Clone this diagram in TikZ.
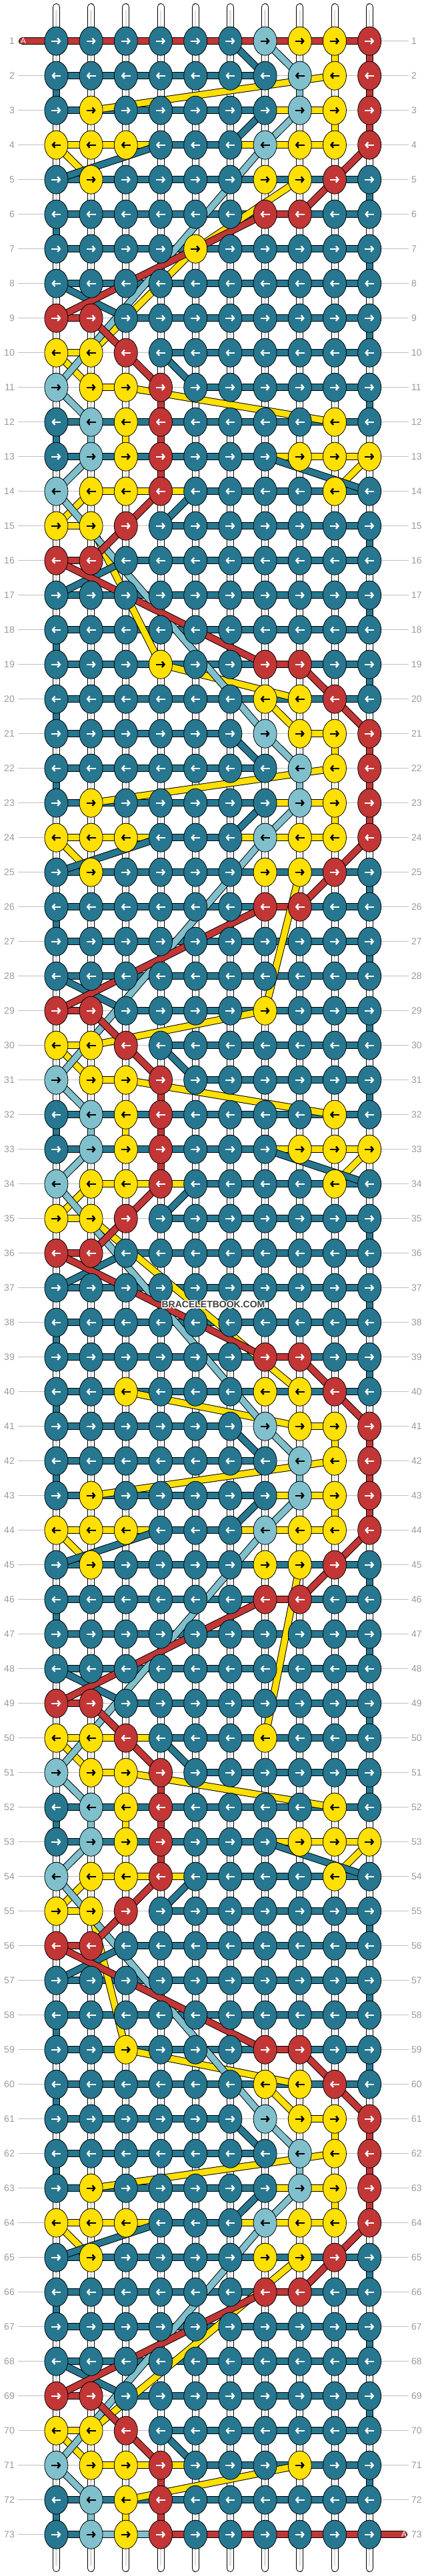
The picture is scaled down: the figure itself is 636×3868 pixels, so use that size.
\documentclass[tikz,border=0pt]{standalone}
\usepackage{fontspec}
\setmainfont{Liberation Sans}
\usetikzlibrary{arrows.meta,shapes.geometric}
\definecolor{sD}{HTML}{26778F}
\definecolor{sL}{HTML}{80C0CC}
\definecolor{sY}{HTML}{FFE000}
\definecolor{sR}{HTML}{C23636}
\colorlet{aD}{white}
\colorlet{aR}{white}
\colorlet{aL}{black}
\colorlet{aY}{black}
\tikzset{
  strand/.style={draw=black,line width=1pt,double=#1,double distance=9pt},
  base/.style={draw=black,line width=1pt,double=white,double distance=9pt,line cap=round},
  core/.style={draw=gray!25,line width=2.5pt},
  knot/.style={ellipse,draw=black,line width=0.8pt,minimum width=35pt,minimum height=43pt,inner sep=0pt},
  arr/.style={draw=#1,line width=2.4pt,-{Straight Barb[length=3.5pt,width=8.5pt]}},
  rowline/.style={draw=gray!50,line width=1pt},
  rowlbl/.style={text=gray!80,font=\fontsize{14}{16}\selectfont,inner sep=0pt},
  endlbl/.style={text=white,font=\fontsize{12}{12}\selectfont,inner sep=0pt},
  wmark/.style={font=\bfseries\fontsize{14}{14}\selectfont,inner sep=0pt}
}
\newcommand\sg[5]{\pgfmathtruncatemacro\ra{#2}\pgfmathtruncatemacro\rb{#4}\draw[strand=#1] (p-\ra-#3) -- (p-\rb-#5);}
\def\dpath{1/1/6/6/7, 2/1/7/1/1, 3/1/7/7/6, 4/4/6/4/1, 5/1/10/10/10, 6/1/10/1/1,
  7/1/10/10/10, 8/1/10/1/3, 9/3/10/10/10, 10/4/10/4/5, 11/5/10/10/10, 12/1/10/1/1,
  13/1/7/7/10, 14/5/10/5/4, 15/4/10/10/10, 16/3/10/3/1, 17/1/10/10/10, 18/1/10/1/1,
  19/1/10/10/10, 20/1/10/1/1}
\def\rowA{D,D,D,D,D,D,L,Y,Y,R}
\def\rowB{D,D,D,D,D,D,D,L,Y,R}
\def\rowC{D,Y,D,D,D,D,D,L,Y,R}
\def\rowE{Y,Y,Y,D,D,D,L,Y,Y,R}
\def\rowF{D,Y,D,D,D,D,Y,Y,R,D}
\def\rowG{D,D,D,D,D,D,R,R,D,D}
\def\rowO{D,D,D,D,D,D,D,D,D,D}
\def\rowH{R,R,D,D,D,D,D,D,D,D}
\def\rowI{Y,Y,R,D,D,D,D,D,D,D}
\def\rowJ{L,Y,Y,R,D,D,D,D,D,D}
\def\rowK{D,L,Y,R,D,D,D,D,Y,D}
\def\rowM{D,L,Y,R,D,D,D,Y,Y,Y}
\def\rowN{L,Y,Y,R,D,D,D,D,Y,D}
\begin{document}
\begin{tikzpicture}[x=1pt,y=-1pt]
\useasboundingbox (0,0) rectangle (636,3868);

\foreach \r in {1,...,73}
  \foreach \c in {1,...,10}
    \coordinate (p-\r-\c) at ({84.4+52.2*(\c-1)},{61.7+52*(\r-1)});
\coordinate (lead-in) at (33.5,61.7);
\coordinate (lead-out) at (605.5,3805.7);

\foreach \r in {1,...,73}{
  \draw[rowline] (26.5,{61.7+52*(\r-1)}) -- (613,{61.7+52*(\r-1)});
  \node[rowlbl,anchor=east] (ll-\r) at (22,{61.7+52*(\r-1)}) {\r};
  \node[rowlbl,anchor=west] (lr-\r) at (617,{61.7+52*(\r-1)}) {\r};
}

\foreach \c in {1,...,10}{
  \coordinate (top-\c) at ({84.4+52.2*(\c-1)},10.5);
  \coordinate (bot-\c) at ({84.4+52.2*(\c-1)},3856.5);
  \draw[base] (top-\c) -- (bot-\c);
  \draw[core] ([yshift=-4pt]top-\c) -- ([yshift=4pt]bot-\c);
}

% horizontal runs
\foreach \p in {0,20,40,60}{
  \sg{sY}{\p+1}{8}{\p+1}{9}
  \sg{sY}{\p+3}{2}{\p+3}{9}
  \sg{sY}{\p+4}{9}{\p+4}{1}
  \sg{sY}{\p+5}{2}{\p+5}{8}
}
\foreach \p in {0,20,40}{
  \sg{sY}{\p+11}{2}{\p+11}{3}
  \sg{sY}{\p+12}{9}{\p+12}{3}
  \sg{sY}{\p+13}{3}{\p+13}{10}
  \sg{sY}{\p+14}{9}{\p+14}{2}
  \sg{sY}{\p+15}{1}{\p+15}{2}
}
\sg{sY}{10}{2}{10}{1}
\sg{sY}{20}{8}{20}{7}
\sg{sY}{30}{2}{30}{1}
\sg{sY}{40}{8}{40}{3}
\sg{sY}{50}{7}{50}{1}
\sg{sY}{60}{8}{60}{7}
\sg{sY}{70}{2}{70}{1}
\sg{sY}{71}{2}{71}{8}

\foreach \p/\last in {0/20,20/20,40/20,60/12}{
  \foreach \k/\a/\b/\u/\v in \dpath{
    \ifnum\k>\last\relax\else
      \sg{sD}{\p+\k}{\a}{\p+\k}{\b}
    \fi
  }
}
\sg{sD}{73}{1}{73}{10}

\sg{sL}{73}{2}{73}{4}

\draw[strand=sR,line cap=round] (lead-in) -- (p-1-10);
\foreach \p in {0,20,40,60}{
  \sg{sR}{\p+6}{8}{\p+6}{7}
  \sg{sR}{\p+9}{1}{\p+9}{2}
}
\foreach \p in {0,20,40}{
  \sg{sR}{\p+16}{2}{\p+16}{1}
  \sg{sR}{\p+19}{7}{\p+19}{8}
}
\draw[strand=sR,line cap=round] (p-73-4) -- (lead-out);

% straight drops
\foreach \p/\last in {0/20,20/20,40/20,60/12}{
  \foreach \k/\a/\b/\u/\v in \dpath{
    \ifnum\k>\last\relax\else
      \ifnum\u=\v\relax \sg{sD}{\p+\k}{\u}{\p+\k+1}{\v}\fi
    \fi
  }
}
\foreach \p in {0,20,40,60}{
  \sg{sY}{\p+1}{9}{\p+2}{9}
  \sg{sY}{\p+3}{9}{\p+4}{9}
  \sg{sL}{\p+2}{8}{\p+3}{8}
  \sg{sL}{\p+12}{2}{\p+13}{2}
  \sg{sR}{\p+1}{10}{\p+2}{10}
  \sg{sR}{\p+2}{10}{\p+3}{10}
  \sg{sR}{\p+3}{10}{\p+4}{10}
  \sg{sR}{\p+11}{4}{\p+12}{4}
  \sg{sR}{\p+12}{4}{\p+13}{4}
}
\foreach \p in {0,20,40}{
  \sg{sY}{\p+12}{3}{\p+13}{3}
  \sg{sR}{\p+13}{4}{\p+14}{4}
}
\sg{sY}{72}{3}{73}{3}

% crossings
\foreach \p in {0,20,40,60}{
  \sg{sY}{\p+2}{9}{\p+3}{2}
  \sg{sY}{\p+4}{1}{\p+5}{2}
}
\foreach \p in {0,20,40}{
  \sg{sY}{\p+10}{1}{\p+11}{2}
  \sg{sY}{\p+11}{3}{\p+12}{9}
  \sg{sY}{\p+13}{10}{\p+14}{9}
  \sg{sY}{\p+14}{2}{\p+15}{1}
}
\sg{sY}{5}{8}{7}{5}
\sg{sY}{7}{5}{10}{2}
\sg{sY}{15}{2}{19}{4}
\sg{sY}{19}{4}{20}{8}
\sg{sY}{20}{7}{21}{8}
\sg{sY}{25}{8}{29}{7}
\sg{sY}{29}{7}{30}{2}
\sg{sY}{35}{2}{40}{8}
\sg{sY}{40}{3}{41}{8}
\sg{sY}{45}{8}{50}{7}
\sg{sY}{55}{2}{59}{3}
\sg{sY}{59}{3}{60}{8}
\sg{sY}{60}{7}{61}{8}
\sg{sY}{65}{8}{70}{2}
\sg{sY}{70}{1}{71}{2}
\sg{sY}{71}{8}{72}{3}

\foreach \p/\last in {0/20,20/20,40/20,60/12}{
  \foreach \k/\a/\b/\u/\v in \dpath{
    \ifnum\k>\last\relax\else
      \ifnum\u=\v\relax\else \sg{sD}{\p+\k}{\u}{\p+\k+1}{\v}\fi
    \fi
  }
}

\foreach \p in {0,20,40,60}{
  \sg{sL}{\p+1}{7}{\p+2}{8}
  \sg{sL}{\p+3}{8}{\p+4}{7}
  \sg{sL}{\p+4}{7}{\p+11}{1}
  \sg{sL}{\p+11}{1}{\p+12}{2}
}
\foreach \p in {0,20,40}{
  \sg{sL}{\p+13}{2}{\p+14}{1}
  \sg{sL}{\p+14}{1}{\p+21}{7}
}

\foreach \p in {0,20,40,60}{
  \sg{sR}{\p+4}{10}{\p+5}{9}
  \sg{sR}{\p+5}{9}{\p+6}{8}
  \sg{sR}{\p+6}{7}{\p+9}{1}
  \sg{sR}{\p+9}{2}{\p+10}{3}
  \sg{sR}{\p+10}{3}{\p+11}{4}
}
\foreach \p in {0,20,40}{
  \sg{sR}{\p+14}{4}{\p+15}{3}
  \sg{sR}{\p+15}{3}{\p+16}{2}
  \sg{sR}{\p+16}{1}{\p+19}{7}
  \sg{sR}{\p+19}{8}{\p+20}{9}
  \sg{sR}{\p+20}{9}{\p+21}{10}
}

% knots
\foreach \r/\row in {1/\rowA, 2/\rowB, 3/\rowC, 4/\rowE, 5/\rowF, 6/\rowG,
    7/{D,D,D,D,Y,D,D,D,D,D}, 8/\rowO, 9/\rowH, 10/\rowI, 11/\rowJ, 12/\rowK,
    13/\rowM, 14/\rowN, 15/\rowI, 16/\rowH, 17/\rowO, 18/\rowO,
    19/{D,D,D,Y,D,D,R,R,D,D}, 20/{D,D,D,D,D,D,Y,Y,R,D},
    21/\rowA, 22/\rowB, 23/\rowC, 24/\rowE, 25/\rowF, 26/\rowG, 27/\rowO, 28/\rowO,
    29/{R,R,D,D,D,D,Y,D,D,D}, 30/\rowI, 31/\rowJ, 32/\rowK, 33/\rowM, 34/\rowN,
    35/\rowI, 36/\rowH, 37/\rowO, 38/\rowO, 39/\rowG, 40/{D,D,Y,D,D,D,Y,Y,R,D},
    41/\rowA, 42/\rowB, 43/\rowC, 44/\rowE, 45/\rowF, 46/\rowG, 47/\rowO, 48/\rowO,
    49/\rowH, 50/{Y,Y,R,D,D,D,Y,D,D,D}, 51/\rowJ, 52/\rowK, 53/\rowM, 54/\rowN,
    55/\rowI, 56/\rowH, 57/\rowO, 58/\rowO, 59/{D,D,Y,D,D,D,R,R,D,D},
    60/{D,D,D,D,D,D,Y,Y,R,D},
    61/\rowA, 62/\rowB, 63/\rowC, 64/\rowE, 65/\rowF, 66/\rowG, 67/\rowO, 68/\rowO,
    69/\rowH, 70/\rowI, 71/{L,Y,Y,R,D,D,D,Y,D,D}, 72/{D,L,Y,R,D,D,D,D,D,D},
    73/{D,L,Y,R,D,D,D,D,D,D}}{
  \edef\tmp{\row}
  \foreach \k [count=\c] in \tmp {
    \node[knot,fill=s\k] (k-\r-\c) at (p-\r-\c) {};
    \ifodd\r\relax
      \draw[arr=a\k] ([xshift=-7pt]k-\r-\c.center) -- ([xshift=7pt]k-\r-\c.center);
    \else
      \draw[arr=a\k] ([xshift=7pt]k-\r-\c.center) -- ([xshift=-7pt]k-\r-\c.center);
    \fi
  }
}

\node[endlbl] (a-in) at (35,61.7) {A};
\node[endlbl] (a-out) at (606,3805.7) {A};

\foreach \dx/\dy in {-1.2/0,1.2/0,0/-1.2,0/1.2,-1/-1,1/1,-1/1,1/-1}
  \node[wmark,text=white,xshift=\dx pt,yshift=\dy pt] at (320,1959) {BRACELETBOOK.COM};
\node[wmark,text=black!75] (wm) at (320,1959) {BRACELETBOOK.COM};
\end{tikzpicture}
\end{document}
